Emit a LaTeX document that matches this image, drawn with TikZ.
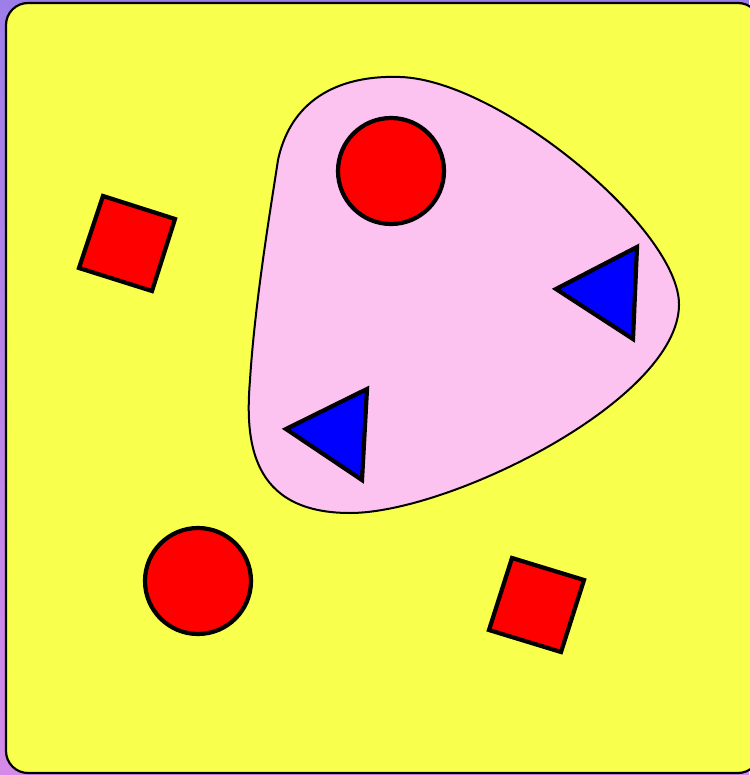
\documentclass[tikz,border=0pt]{standalone}
\definecolor{bgtop}{HTML}{9D7EE8}
\definecolor{bgbot}{HTML}{D68AE8}
\definecolor{yel}{HTML}{F8FF4C}
\definecolor{pinkblob}{HTML}{FCC2F0}
\definecolor{redf}{HTML}{FF0000}
\definecolor{bluef}{HTML}{0000FF}
\begin{document}
\begin{tikzpicture}[x=1pt,y=-1pt,
  shapeline/.style={draw=black,line width=4.2pt,line join=miter},
  redshape/.style={shapeline,fill=redf},
  blueshape/.style={shapeline,fill=bluef}]
\useasboundingbox (0,0) rectangle (749,775);
\shade[top color=bgtop,bottom color=bgbot] (0,0) rectangle (749,775);
\draw[fill=yel,line width=2.2pt,rounded corners=22pt] (6,3) rectangle (760,773);
% blob
\draw[fill=pinkblob,line width=2pt] (278,160) .. controls (292,95) and (345,75) .. (400,77)
  .. controls (500,80) and (680,230) .. (679,305)
  .. controls (678,400) and (450,513) .. (350,513)
  .. controls (250,513) and (245,440) .. (250,380)
  .. controls (255,300) and (272,200) .. (278,160) -- cycle;
% circles
\draw[redshape] (391,171) circle (53);
\draw[redshape] (198,581) circle (53);
% squares
\draw[redshape] (103,196) -- (175,219) -- (152,291) -- (79,268) -- cycle;
\draw[redshape] (512,558) -- (584,580) -- (561,652) -- (489,630) -- cycle;
% triangles
\draw[blueshape] (556,289) -- (637,247) -- (633,339) -- cycle;
\draw[blueshape] (286,429) -- (367,389) -- (362,480) -- cycle;
\end{tikzpicture}
\end{document}
